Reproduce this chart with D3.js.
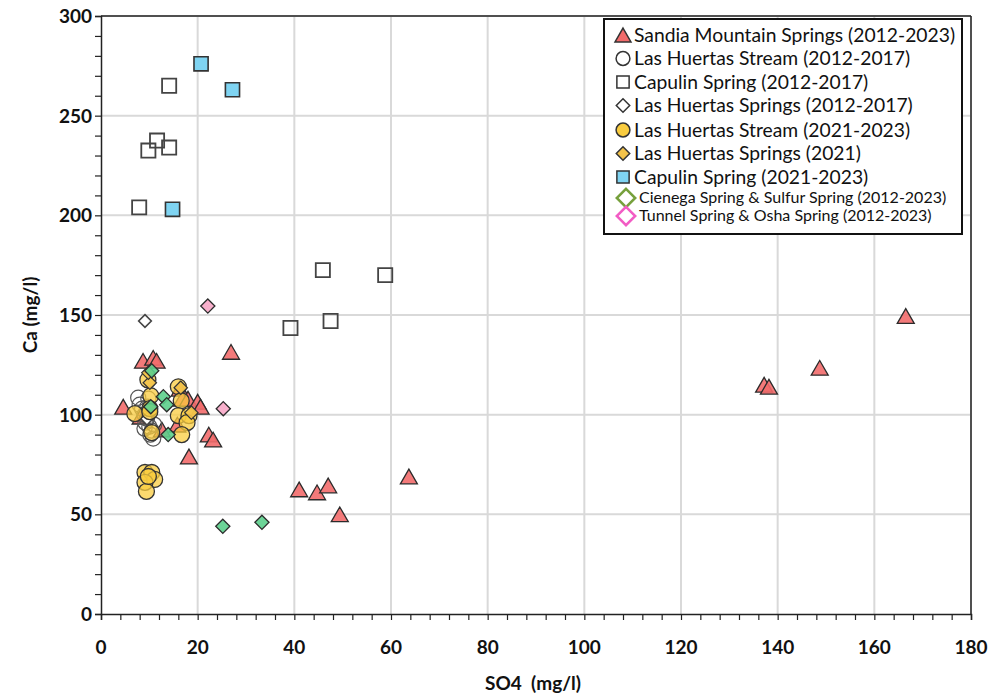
<!DOCTYPE html>
<html><head><meta charset="utf-8">
<script src="https://cdn.jsdelivr.net/npm/d3@7"></script>
<style>body{margin:0;background:#fff}svg{display:block}</style>
</head><body><svg id="c" width="998" height="698"></svg>
<script>
// ---- data: [SO4, Ca] pairs per series ----
const sandiaSprings = [[4.6,104],[8.7,127],[10.8,128.5],[11.5,127],[8.2,99],[12.6,92.5],[16.3,113],[16.8,108],[18,108],[20,106.5],[20.6,104],[22.3,90],[23.2,87.5],[18.2,79],[26.9,131.5],[41,62.5],[44.7,61],[47,64.5],[49.4,50],[63.7,69],[137.2,115],[138.2,114],[148.7,123.5],[166.5,149.5],[15.8,95]];
const lhStream1217 = [[8,105],[8.5,103],[9,100],[9.5,98],[9.2,96],[10,94],[10.5,92],[10.2,90],[10.8,88],[11,95],[9,93],[10,101],[9.8,108],[9.6,104],[7.7,108.5]];
const capulin1217 = [[14.1,265],[11.6,237.5],[9.8,232.5],[14.1,234],[7.9,204],[45.9,172.5],[58.8,170],[39.2,143.5],[47.5,147]];
const lhSprings1217 = [[9.1,147],[10,104],[9.5,98]];
const lhStream2123 = [[9.7,117.5],[10.3,109.5],[10.1,103],[7,100.5],[10.5,91],[16,114],[16.6,107],[16,99.5],[18.2,99.5],[17.8,96],[16.7,90],[9.1,71],[10.5,71],[11.1,67.5],[9.1,66],[9.4,61.5],[9.8,69],[10.1,101.5]];
const lhSprings2021 = [[10.1,116],[9.8,121],[16.5,113.5],[18.7,101]];
const capulin2123 = [[20.7,276],[27.2,263],[14.8,203]];
const cienegaSulfur = [[10.5,122],[12.9,109],[13.6,105],[13.9,90],[25.2,44],[33.3,46],[10.3,104]];
const tunnelOsha = [[22.1,154.5],[25.3,103]];

const seriesNames = ["Sandia Mountain Springs (2012-2023)","Las Huertas Stream (2012-2017)","Capulin Spring (2012-2017)","Las Huertas Springs (2012-2017)","Las Huertas Stream (2021-2023)","Las Huertas Springs (2021)","Capulin Spring (2021-2023)","Cienega Spring & Sulfur Spring (2012-2023)","Tunnel Spring & Osha Spring (2012-2023)"];
const xTicks = [0,20,40,60,80,100,120,140,160,180];
const yTicks = [0,50,100,150,200,250,300];

const diamond = {draw(ctx,size){const r=Math.sqrt(size/2);ctx.moveTo(0,-r);ctx.lineTo(r,0);ctx.lineTo(0,r);ctx.lineTo(-r,0);ctx.closePath();}};
// triangle centred on its bounding box (as in spreadsheet markers)
const triangle = {draw(ctx,size){const s=Math.sqrt(size*4/Math.sqrt(3));const h=s*Math.sqrt(3)/2;ctx.moveTo(0,-h/2);ctx.lineTo(s/2,h/2);ctx.lineTo(-s/2,h/2);ctx.closePath();}};
const styles = [
  {data:sandiaSprings, type:triangle, size:125, fill:"#f26b6b", fo:0.9, stroke:"#2b2b2b", sw:1.3},
  {data:lhStream1217, type:d3.symbolCircle, size:180, fill:"none", fo:1, stroke:"#555", sw:1.2},
  {data:capulin1217, type:d3.symbolSquare, size:200, fill:"none", fo:1, stroke:"#444", sw:1.8},
  {data:lhSprings1217, type:diamond, size:80, fill:"#fff", fo:1, stroke:"#444", sw:1.6},
  {data:lhStream2123, type:d3.symbolCircle, size:200, fill:"#f9cc3f", fo:0.75, stroke:"#333", sw:1.3},
  {data:lhSprings2021, type:diamond, size:90, fill:"#f3c34a", fo:0.9, stroke:"#333", sw:1.2},
  {data:capulin2123, type:d3.symbolSquare, size:200, fill:"#7fd4f2", fo:1, stroke:"#333", sw:1.6},
  {data:cienegaSulfur, type:diamond, size:100, fill:"#5ccf8c", fo:0.9, stroke:"#2b2b2b", sw:1.3},
  {data:tunnelOsha, type:diamond, size:100, fill:"#f8b0cc", fo:1, stroke:"#2b2b2b", sw:1.3}
];

const svg = d3.select("#c");
const m = {l:101, r:27, t:16, b:84};
const W = 998, H = 698;
const x = d3.scaleLinear().domain([0,180]).range([m.l, W-m.r]);
const y = d3.scaleLinear().domain([0,300]).range([H-m.b, m.t]);
const font = "Lato, 'Open Sans', sans-serif";

// gridlines
svg.append("g").selectAll("line").data(xTicks.slice(1)).join("line")
  .attr("x1",d=>x(d)).attr("x2",d=>x(d)).attr("y1",y(0)).attr("y2",y(300))
  .attr("stroke","#d9d9d9").attr("stroke-width",2);
svg.append("g").selectAll("line").data(yTicks.slice(1)).join("line")
  .attr("x1",x(0)).attr("x2",x(180)).attr("y1",d=>y(d)).attr("y2",d=>y(d))
  .attr("stroke","#d9d9d9").attr("stroke-width",2);

// axes
const xAxis = svg.append("g").attr("transform",`translate(0,${y(0)})`)
  .call(d3.axisBottom(x).tickValues(d3.range(0,181,4)).tickSize(6).tickFormat(""));
const yAxis = svg.append("g").attr("transform",`translate(${x(0)},0)`)
  .call(d3.axisLeft(y).tickValues(d3.range(0,301,10)).tickSize(6).tickFormat(""));
[xAxis,yAxis].forEach(g=>{g.select(".domain").attr("stroke","#222").attr("stroke-width",1.5);g.selectAll(".tick line").attr("stroke","#222").attr("stroke-width",1.2);});
// top & right border
svg.append("line").attr("x1",x(0)).attr("x2",x(180)).attr("y1",y(300)).attr("y2",y(300)).attr("stroke","#222").attr("stroke-width",1.5);
svg.append("line").attr("x1",x(180)).attr("x2",x(180)).attr("y1",y(300)).attr("y2",y(0)).attr("stroke","#222").attr("stroke-width",1.5);

// tick labels
svg.append("g").selectAll("text").data(xTicks).join("text")
  .attr("x",d=>x(d)).attr("y",y(0)+40).attr("text-anchor","middle")
  .attr("font-family",font).attr("font-weight","bold").attr("font-size",19).attr("fill","#111").text(d=>d);
svg.append("g").selectAll("text").data(yTicks).join("text")
  .attr("x",x(0)-9).attr("y",d=>y(d)+7).attr("text-anchor","end")
  .attr("font-family",font).attr("font-weight","bold").attr("font-size",19).attr("fill","#111").text(d=>d);

// axis titles
svg.append("text").attr("x",x(90)-3).attr("y",y(0)+76).attr("text-anchor","middle")
  .attr("font-family",font).attr("font-weight","bold").attr("font-size",19).attr("fill","#111")
  .attr("xml:space","preserve").text("SO4  (mg/l)");
svg.append("text").attr("transform",`translate(37,${y(150)}) rotate(-90)`).attr("text-anchor","middle")
  .attr("font-family",font).attr("font-weight","bold").attr("font-size",19).attr("fill","#111").text("Ca (mg/l)");

// points
styles.forEach(s=>{
  svg.append("g").selectAll("path").data(s.data).join("path")
    .attr("transform",d=>`translate(${x(d[0])},${y(d[1])})`)
    .attr("d",d3.symbol().type(s.type).size(s.size)())
    .attr("fill",s.fill).attr("fill-opacity",s.fo).attr("stroke",s.stroke).attr("stroke-width",s.sw);
});

// legend
const lg = svg.append("g");
lg.append("rect").attr("x",604).attr("y",19).attr("width",358).attr("height",215)
  .attr("fill","#fff").attr("stroke","#111").attr("stroke-width",2);
const legendRows = [35,58.5,82,105.5,130,153.5,177,198,216];
const legendStyles = styles.map((s,i)=>{
  if(i===7) return {type:diamond,size:170,fill:"none",stroke:"#76a03c",sw:2.5};
  if(i===8) return {type:diamond,size:170,fill:"none",stroke:"#f25cc4",sw:2.5};
  if(i===1) return {type:d3.symbolCircle,size:150,fill:"none",stroke:"#333",sw:1.5};
  return {type:s.type,size:s.type===triangle?110:(s.type===diamond?90:150),fill:s.fill,stroke:"#333",sw:1.5,fo:1};
});
seriesNames.forEach((name,i)=>{
  const ls = legendStyles[i];
  const small = i>=7;
  lg.append("path").attr("transform",`translate(${small?626:623},${legendRows[i]})`)
    .attr("d",d3.symbol().type(ls.type).size(ls.size)())
    .attr("fill",ls.fill).attr("stroke",ls.stroke).attr("stroke-width",ls.sw);
  lg.append("text").attr("x",small?639:634).attr("y",legendRows[i]+(small?5:6.5))
    .attr("font-family",font).attr("font-size",small?16:19.3).attr("fill","#111").text(name);
});
</script></body></html>
